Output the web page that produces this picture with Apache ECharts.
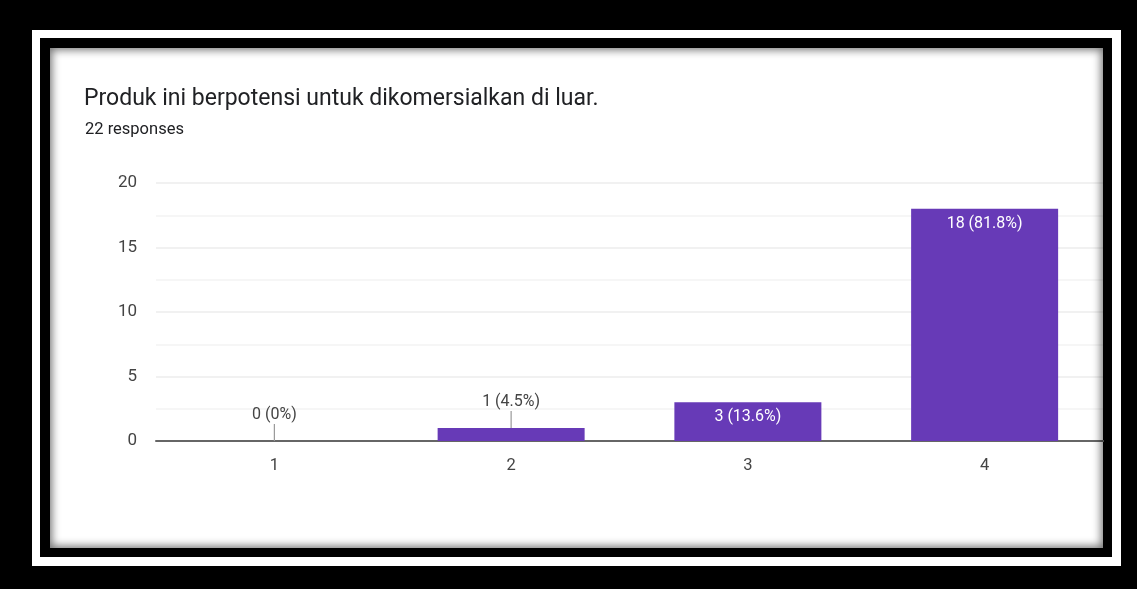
<!DOCTYPE html>
<html>
<head>
<meta charset="utf-8">
<script src="https://cdn.jsdelivr.net/npm/echarts@6/dist/echarts.min.js"></script>
<style>
  html, body { margin: 0; padding: 0; background: #000; }
  #stage { position: relative; width: 1137px; height: 589px; background: #000; overflow: hidden; }
  .frame { position: absolute; }
  #f1 { left: 32px; top: 30px; width: 1089px; height: 536px; background: #fff; }
  #f2 { left: 40px; top: 38px; width: 1072px; height: 519px; background: #000; }
  #f3 { left: 50px; top: 48px; width: 1053px; height: 500px; background: #fff; }
  #shade { left: 50px; top: 48px; width: 1053px; height: 500px; box-shadow: inset 0 0 9px 2px rgba(0,0,0,0.55); pointer-events: none; z-index: 5; }
  #chart { position: absolute; left: 0; top: 0; width: 1137px; height: 589px; z-index: 2; }
</style>
</head>
<body>
<div id="stage">
  <div class="frame" id="f1"></div>
  <div class="frame" id="f2"></div>
  <div class="frame" id="f3"></div>
  <div id="chart"></div>
  <div class="frame" id="shade"></div>
</div>
<script>
// Survey question and answer counts
const questionTitle = 'Produk ini berpotensi untuk dikomersialkan di luar.';
const responseNote = '22 responses';
const categories = ['1', '2', '3', '4'];
const counts = [0, 1, 3, 18];
const yTicks = [0, 5, 10, 15, 20];

const total = counts.reduce((a, b) => a + b, 0);
const pctText = v => {
  const p = Math.round(v / total * 1000) / 10;
  return (p % 1 === 0 ? p.toFixed(0) : p.toFixed(1)) + '%';
};
const labelFor = v => v + ' (' + pctText(v) + ')';

// Short bars get their label above with a leader line; tall bars get it inside.
const smallLimit = 2;
const FONT = 'Roboto, "Noto Sans", Arial, sans-serif';

const barData = counts.map(v => {
  const inside = v > smallLimit;
  return {
    value: v,
    label: inside
      ? { position: 'insideTop', distance: 7, color: '#ffffff' }
      : { position: 'top', distance: 18, color: '#444444' }
  };
});

const chart = echarts.init(document.getElementById('chart'), null, { renderer: 'canvas' });

chart.setOption({
  backgroundColor: 'transparent',
  animation: false,
  title: [
    {
      text: questionTitle,
      left: 84, top: 88, padding: 0,
      textStyle: { fontFamily: FONT, fontSize: 23, fontWeight: 'normal', color: '#202124' }
    },
    {
      text: responseNote,
      left: 85, top: 121, padding: 0,
      textStyle: { fontFamily: FONT, fontSize: 16.5, fontWeight: 'normal', color: '#202124' }
    }
  ],
  grid: { left: 156, right: 34, top: 183, bottom: 148, containLabel: false },
  xAxis: {
    type: 'category',
    data: categories,
    axisLine: { show: true, lineStyle: { color: '#666666', width: 2 } },
    axisTick: { show: false },
    axisLabel: { fontFamily: FONT, fontSize: 16.5, color: '#444444', margin: 16 },
    splitLine: { show: false }
  },
  yAxis: {
    type: 'value',
    min: yTicks[0],
    max: yTicks[yTicks.length - 1],
    interval: yTicks[1] - yTicks[0],
    axisLine: { show: false },
    axisTick: { show: false },
    axisLabel: { fontFamily: FONT, fontSize: 17, color: '#444444', margin: 19 },
    splitLine: { show: true, lineStyle: { color: '#ececec', width: 1.5 } },
    minorTick: { show: false, splitNumber: 2 },
    minorSplitLine: { show: true, lineStyle: { color: '#f3f3f3', width: 1.5 } }
  },
  series: [
    {
      type: 'bar',
      data: barData,
      barWidth: 147,
      itemStyle: { color: '#673ab7' },
      label: {
        show: true,
        fontFamily: FONT,
        fontSize: 16,
        formatter: p => labelFor(p.value)
      },
      z: 3
    },
    {
      // leader lines from short bars up to their labels
      type: 'custom',
      data: counts.map((v, i) => [i, v]).filter(d => d[1] <= smallLimit),
      renderItem: (params, api) => {
        const p = api.coord([api.value(0), api.value(1)]);
        return {
          type: 'line',
          shape: { x1: p[0], y1: p[1], x2: p[0], y2: p[1] - 17 },
          style: { stroke: '#999999', lineWidth: 1.2 }
        };
      },
      encode: { x: 0, y: 1 },
      silent: true,
      z: 4
    }
  ]
});
</script>
</body>
</html>
